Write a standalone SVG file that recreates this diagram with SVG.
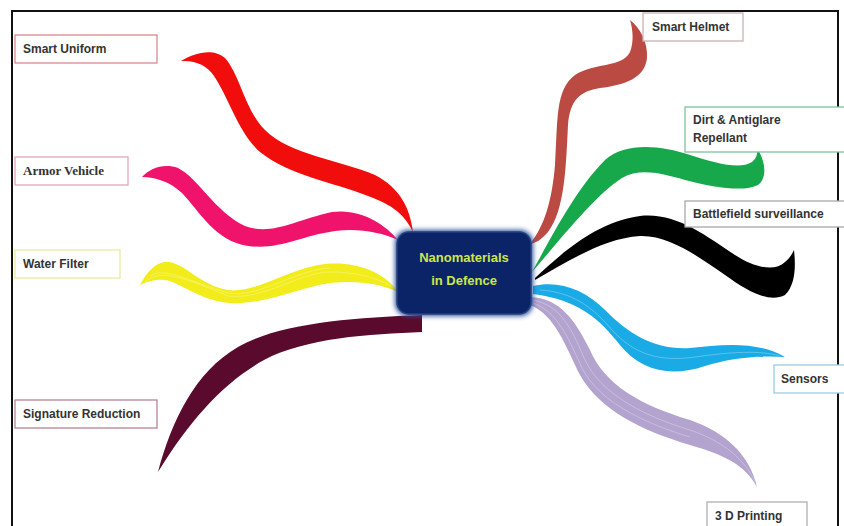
<svg xmlns="http://www.w3.org/2000/svg" width="844" height="526" viewBox="0 0 844 526">
<style>
.lbl{fill:#fff;stroke-width:1.3}
.t{font-family:"Liberation Sans",Arial,sans-serif;font-weight:bold;font-size:12px;fill:#333}
.ts{font-family:"Liberation Serif","Times New Roman",serif;font-weight:bold;font-size:13px;fill:#333}
.ct{font-family:"Liberation Sans",Arial,sans-serif;font-weight:bold;font-size:13px;fill:#cde64a;text-anchor:middle}
.stripe{fill:none;stroke:#fff;stroke-opacity:0.35;stroke-width:0.8}
</style>
<defs>
<filter id="glow" x="-20%" y="-20%" width="140%" height="140%">
<feGaussianBlur stdDeviation="2.5"/>
</filter>
</defs>
<rect width="844" height="526" fill="#fff"/>
<g id="frame" fill="none" stroke="#111" stroke-width="2">
<path d="M12,526 V11 H838 V526"/>
</g>
<g id="connectors">
<path id="c-red" fill="#f20d0d" d="M181,61 C195,52 214,48 225,58 C240,75 245,110 265,130 C290,155 340,160 375,175 C400,188 410,208 413,232 C405,215 393,205 368,196 C333,182 290,176 260,152 C238,132 230,100 214,76 C207,65 195,60 181,61 Z"/>
<path id="c-pink" fill="#f0136b" d="M142,177 C150,168 164,163 178,168 C198,178 215,212 245,226 C272,236 295,220 332,212 C360,208 385,224 398,240 C380,232 358,228 335,231 C300,236 280,250 248,246 C215,241 200,212 182,193 C170,182 156,177 142,177 Z"/>
<path id="c-yellow" fill="#f2ec1a" d="M140,285 C148,270 158,260 170,262 C188,266 200,285 228,290 C255,294 290,268 325,264 C355,261 385,272 398,292 C380,283 355,280 330,283 C300,287 265,305 230,303 C200,301 180,282 165,280 C155,279 146,282 140,285 Z"/>
<path class="stripe" d="M145,282 C160,268 185,278 228,296 C265,300 300,272 330,272 C360,272 385,280 396,290"/>
<path class="stripe" d="M150,276 C165,266 190,282 228,293 C260,298 295,270 330,268"/>
<path id="c-maroon" fill="#5a0a2c" d="M158,472 C172,420 195,372 238,347 C280,323 350,318 422,315 L422,332 C370,334 305,338 264,360 C224,382 190,420 158,472 Z"/>
<path id="c-brown" fill="#bb4a43" d="M530,244 C545,225 552,200 555,165 C558,120 555,90 575,75 C595,62 622,68 630,52 C634,42 633,30 630,20 C640,28 648,42 647,58 C645,78 625,85 600,88 C580,91 570,100 568,125 C566,165 565,210 548,232 C541,240 536,243 530,244 Z"/>
<path id="c-green" fill="#17a84b" d="M532,272 C550,240 575,190 605,160 C625,142 660,145 690,155 C715,163 740,170 752,162 C757,158 758,152 757,148 C765,160 768,178 758,185 C745,192 715,188 685,180 C660,173 640,168 622,178 C595,195 560,240 532,272 Z"/>
<path id="c-black" fill="#000" d="M535,278 C560,255 595,222 640,216 C675,212 705,235 735,255 C755,268 775,272 785,262 C790,258 792,254 794,250 C796,268 795,285 785,295 C770,303 750,293 725,275 C700,258 670,235 640,236 C605,238 570,260 535,280 Z"/>
<path id="c-blue" fill="#1aabe6" d="M533,286 C560,280 585,290 605,310 C630,335 655,350 690,348 C720,345 755,340 785,357 C760,355 730,358 705,366 C670,378 640,370 620,345 C600,320 580,300 533,294 Z"/>
<path class="stripe" d="M540,290 C575,292 595,310 612,330 C635,355 660,362 695,357 C730,352 760,350 780,356"/>
<path id="c-lav" fill="#b3a3cf" d="M530,297 C560,298 575,320 590,350 C605,385 640,405 690,420 C725,432 750,455 757,487 C745,465 725,455 690,445 C640,430 600,410 580,375 C565,345 555,315 530,305 Z"/>
<path class="stripe" d="M533,300 C562,306 572,330 585,360 C600,392 640,415 690,430 C725,442 745,460 755,482"/>
<path class="stripe" d="M533,303 C558,312 568,338 582,368 C598,400 640,422 690,437"/>
</g>
<g id="center">
<rect x="395" y="230" width="138" height="86" rx="13" fill="#2a4f9a" filter="url(#glow)"/>
<rect x="397" y="232" width="134" height="82" rx="12" fill="#0a2467" stroke="#24407e" stroke-width="1.5"/>
<text class="ct" x="464" y="262">Nanomaterials</text>
<text class="ct" x="464" y="285">in Defence</text>
</g>
<g id="n-smart-uniform">
<rect x="15" y="35" width="142" height="28" class="lbl" stroke="#d68c8c"/>
<text class="t" x="23" y="53">Smart Uniform</text>
</g>
<g id="n-armor">
<rect x="15" y="157" width="113" height="28" class="lbl" stroke="#e3a5b8"/>
<text class="ts" x="23" y="175">Armor Vehicle</text>
</g>
<g id="n-water">
<rect x="15" y="250" width="105" height="28" class="lbl" stroke="#ecec9e"/>
<text class="t" x="23" y="268">Water Filter</text>
</g>
<g id="n-signature">
<rect x="15" y="400" width="142" height="28" class="lbl" stroke="#b88494"/>
<text class="t" x="23" y="418">Signature Reduction</text>
</g>
<g id="n-helmet">
<rect x="643" y="13" width="100" height="28" class="lbl" stroke="#c9b3b3"/>
<text class="t" x="652" y="31">Smart Helmet</text>
</g>
<g id="n-dirt">
<rect x="685" y="107" width="165" height="45" class="lbl" stroke="#7cc49a"/>
<text class="t" x="693" y="124">Dirt &amp; Antiglare</text>
<text class="t" x="693" y="142">Repellant</text>
</g>
<g id="n-battle">
<rect x="685" y="201" width="165" height="26" class="lbl" stroke="#a8a8a8"/>
<text class="t" x="693" y="218">Battlefield surveillance</text>
</g>
<g id="n-sensors">
<rect x="774" y="365" width="76" height="28" class="lbl" stroke="#98cce6"/>
<text class="t" x="781" y="383">Sensors</text>
</g>
<g id="n-3d">
<rect x="707" y="502" width="100" height="30" class="lbl" stroke="#b0b0b0"/>
<text class="t" x="715" y="520">3 D Printing</text>
</g>
</svg>
